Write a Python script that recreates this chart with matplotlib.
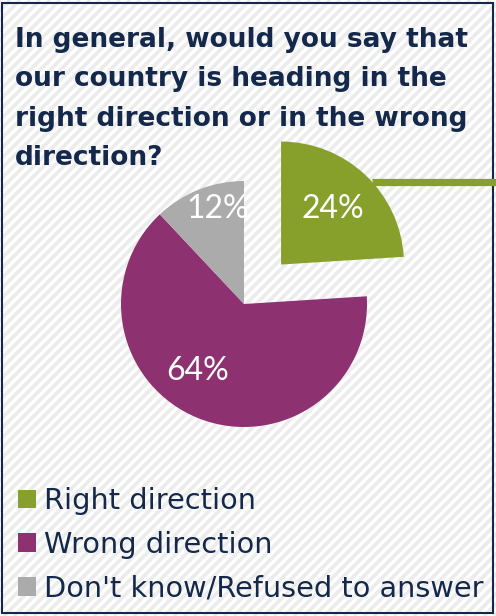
import matplotlib
matplotlib.use("Agg")
import matplotlib.pyplot as plt
import numpy as np
from matplotlib.patches import Rectangle

# survey question and answers
title_lines = [
    "In general, would you say that",
    "our country is heading in the",
    "right direction or in the wrong",
    "direction?",
]
categories = ["Right direction", "Wrong direction", "Don't know/Refused to answer"]
shares = [24, 64, 12]
colors = ["#87A02B", "#8E3170", "#ABABAB"]

W, H = 496, 616
navy = "#13284A"

fig = plt.figure(figsize=(W / 100, H / 100), dpi=100)

# background: light diagonal stripes + frame (pixel coords)
bg = fig.add_axes([0, 0, 1, 1])
bg.set_xlim(0, W)
bg.set_ylim(H, 0)
bg.axis("off")
for c in np.arange(-H, W + 10, 10):
    bg.plot([c, c + H], [H, 0], color="#ECECEC", lw=2.6, solid_capstyle="butt")
bg.add_patch(Rectangle((2, 3), 491, 610, fill=False, ec=navy, lw=1.5, zorder=5))

for i, line in enumerate(title_lines):
    bg.text(15, 47 + i * 39.3, line, fontsize=19, fontweight="bold",
            color=navy, family="DejaVu Sans", va="baseline", zorder=6)

# pie, one data unit = pie radius
cx, cy, r = 244, 304, 123
ax = fig.add_axes([0, 0, 1, 1])
ax.patch.set_alpha(0)
wedges, texts, autotexts = ax.pie(
    shares, colors=colors, explode=[0.44, 0, 0], startangle=90,
    counterclock=False, autopct=lambda p: f"{p:.0f}%", pctdistance=0.65,
    textprops=dict(color="white", fontsize=23, family="Lato"),
    wedgeprops=dict(linewidth=0))
ax.set_xlim(-cx / r, (W - cx) / r)
ax.set_ylim(-(H - cy) / r, cy / r)
ax.set_aspect("auto")
ax.axis("off")

# nudge the percentage labels a little
label_shift = [0, -13, -6]
label_dist = [0.62, 0.66, 0.80]
for w, t, dth, d in zip(wedges, autotexts, label_shift, label_dist):
    th = np.deg2rad((w.theta1 + w.theta2) / 2 + dth)
    t.set_position((w.center[0] + d * np.cos(th), w.center[1] + d * np.sin(th)))

# leader line off the green slice
g = wedges[0]
a = np.deg2rad(42)
x0 = g.center[0] + np.cos(a)
y0 = g.center[1] + np.sin(a)
ax.plot([x0, (W - cx) / r], [y0, y0], color=colors[0], lw=5.2,
        solid_capstyle="butt", clip_on=False, zorder=7)

leg = ax.legend(wedges, categories, loc="upper left",
                bbox_to_anchor=(18 / W, 1 - 487 / H), bbox_transform=fig.transFigure,
                frameon=False, prop={"family": "DejaVu Sans", "size": 20.7},
                handlelength=0.62, handleheight=0.62, handletextpad=0.3,
                labelspacing=0.55, borderpad=0, borderaxespad=0)
for t in leg.get_texts():
    t.set_color(navy)

fig.savefig("out.png", dpi=100)
